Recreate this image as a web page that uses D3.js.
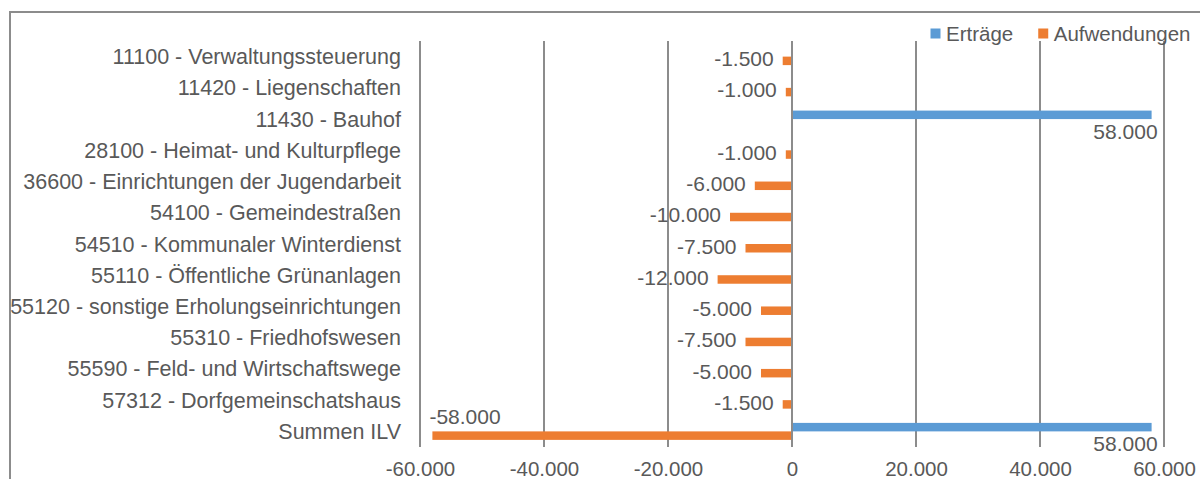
<!DOCTYPE html>
<head>
	<meta charset="UTF-8">
	<script src="https://d3js.org/d3.v7.min.js"></script>
	<title>Interne Leistungsverrechnung</title>
<style>
	body{
		margin: 0;
		background-color: white;
	}
	text{
		font-family: 'Liberation Sans', Arial, sans-serif;
		fill: #595959;
	}
</style>
</head>

<body>
	<svg width=1200 height=479></svg>
</body>

<script>
	// Chart data
	var categories = [
		"11100 - Verwaltungssteuerung",
		"11420 - Liegenschaften",
		"11430 - Bauhof",
		"28100 - Heimat- und Kulturpflege",
		"36600 - Einrichtungen der Jugendarbeit",
		"54100 - Gemeindestraßen",
		"54510 - Kommunaler Winterdienst",
		"55110 - Öffentliche Grünanlagen",
		"55120 - sonstige Erholungseinrichtungen",
		"55310 - Friedhofswesen",
		"55590 - Feld- und Wirtschaftswege",
		"57312 - Dorfgemeinschatshaus",
		"Summen ILV"
	];
	var seriesNames = ["Erträge", "Aufwendungen"];
	var ertraege = [null, null, 58000, null, null, null, null, null, null, null, null, null, 58000];
	var aufwendungen = [-1500, -1000, null, -1000, -6000, -10000, -7500, -12000, -5000, -7500, -5000, -1500, -58000];
	var xTicks = [-60000, -40000, -20000, 0, 20000, 40000, 60000];

	var colors = {"Erträge": "#5b9bd5", "Aufwendungen": "#ed7d31"};
	var gridColor = "#8c8c8c";

	// German number format
	var de = d3.formatLocale({decimal: ",", thousands: ".", grouping: [3], currency: ["", " €"], minus: "-"});
	var fmt = de.format(",d");

	var svg = d3.select("svg");

	// Chart frame (cut off at right and bottom)
	svg.append("rect")
		.attr("x", 10)
		.attr("y", 12)
		.attr("width", 1400)
		.attr("height", 800)
		.style("fill", "none")
		.style("stroke", gridColor)
		.style("stroke-width", 2);

	// Scales
	var x = d3.scaleLinear()
				.domain([-60000, 60000])
				.range([420, 1164]);
	var y = d3.scaleBand()
				.domain(categories)
				.range([41, 447])
				.paddingInner(0.456)
				.paddingOuter(0.228);
	var ySub = d3.scaleBand()
				.domain(seriesNames)
				.range([0, y.bandwidth()]);

	// Gridlines
	svg.append("g")
		.attr("id", "grid")
		.selectAll("line")
		.data(xTicks).enter()
		.append("line")
		.attr("x1", d => x(d))
		.attr("x2", d => x(d))
		.attr("y1", 41)
		.attr("y2", 447)
		.style("stroke", gridColor)
		.style("stroke-width", 2);

	// X axis labels
	var xAxis = svg.append("g")
					.attr("transform", "translate(0,447)")
					.call(d3.axisBottom(x).tickValues(xTicks).tickFormat(fmt).tickSize(0).tickPadding(0));
	xAxis.select(".domain").remove();
	xAxis.selectAll("text")
			.attr("y", 28.5)
			.attr("dy", 0)
			.attr("font-size", 20.5)
			.attr("font-family", null)
			.attr("fill", null);

	// Category labels
	var yAxis = svg.append("g")
					.attr("transform", "translate(401,0)")
					.call(d3.axisLeft(y).tickSize(0).tickPadding(0));
	yAxis.select(".domain").remove();
	yAxis.selectAll("text")
			.attr("font-size", 21.5)
			.attr("font-family", null)
			.attr("fill", null)
			.attr("dy", "0.35em");

	// Bars
	var rows = categories.map(function(c, i) {
		return [{cat: c, series: "Erträge", value: ertraege[i]},
				{cat: c, series: "Aufwendungen", value: aufwendungen[i]}];
	}).flat().filter(d => d.value != null);

	var bars = svg.append("g").attr("id", "bars");
	bars.selectAll("rect")
		.data(rows).enter()
		.append("rect")
		.attr("x", d => Math.min(x(0), x(d.value)))
		.attr("y", d => y(d.cat) + ySub(d.series))
		.attr("width", d => Math.abs(x(d.value) - x(0)))
		.attr("height", ySub.bandwidth())
		.style("fill", d => colors[d.series]);

	// Zero line on top of bars
	svg.append("line")
		.attr("x1", x(0))
		.attr("x2", x(0))
		.attr("y1", 41)
		.attr("y2", 447)
		.style("stroke", gridColor)
		.style("stroke-width", 2);

	// Data labels
	var last = categories[categories.length - 1];
	var labels = svg.append("g").attr("id", "labels");
	labels.selectAll("text")
		.data(rows).enter()
		.append("text")
		.text(d => fmt(d.value))
		.attr("font-size", 21)
		.attr("text-anchor", function(d) {
			if(d.series == "Erträge") return "end";
			return (d.cat == last) ? "start" : "end";
		})
		.attr("x", function(d) {
			if(d.series == "Erträge") return x(d.value) + 6;
			return (d.cat == last) ? x(d.value) - 3 : x(d.value) - 9;
		})
		.attr("y", function(d) {
			var top = y(d.cat) + ySub(d.series);
			if(d.series == "Erträge") return top + ySub.bandwidth() + 20;
			if(d.cat == last) return top - 7;
			return top + ySub.bandwidth() / 2 - 2;
		})
		.attr("dy", d => (d.series == "Aufwendungen" && d.cat != last) ? "0.35em" : 0);

	// Legend
	var legend = svg.append("g").attr("id", "legend");
	var lx = 930.5;
	seriesNames.forEach(function(name) {
		legend.append("rect")
			.attr("x", lx)
			.attr("y", 28.5)
			.attr("width", 10)
			.attr("height", 10)
			.style("fill", colors[name]);
		var t = legend.append("text")
			.attr("x", lx + 15.5)
			.attr("y", 41)
			.attr("font-size", 20.5)
			.text(name);
		lx += 15.5 + t.node().getComputedTextLength() + 25;
	});
</script>
